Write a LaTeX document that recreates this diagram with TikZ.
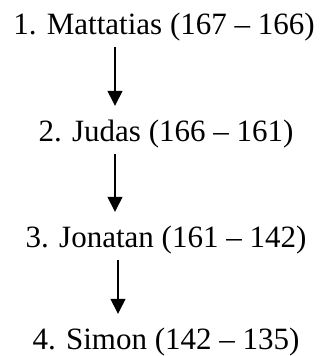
\documentclass[tikz,border=0pt]{standalone}
\usepackage{fontspec}
\setmainfont{Liberation Serif}
\usepackage{tikz}
\usetikzlibrary{positioning}
\usetikzlibrary{arrows.meta}

\tikzset{
  ruler/.style={font=\fontsize{31pt}{36pt}\selectfont, inner sep=0pt, text height=22pt, text depth=7pt, anchor=base},
  succ/.style={-{Triangle[width=15pt,length=15pt]}, line width=1.4pt, shorten <=6pt, shorten >=13pt}
}

\begin{document}
\begin{tikzpicture}[x=1pt,y=1pt]
\useasboundingbox (0,0) rectangle (323,-356);

\node [ruler] (mattatias) at (164,-34) {1. Mattatias (167 -- 166)};
\node [ruler] (judas) at (166,-141) {2. Judas (166 -- 161)};
\node [ruler] (jonatan) at (166,-247) {3. Jonatan (161 -- 142)};
\node [ruler] (simon) at (166,-349) {4. Simon (142 -- 135)};

\draw [succ] ([xshift=-49pt]mattatias.south) -- ([xshift=-51pt]judas.north);
\draw [succ] ([xshift=-51pt]judas.south) -- ([xshift=-51pt]jonatan.north);
\draw [succ] ([xshift=-48pt]jonatan.south) -- ([xshift=-48pt]simon.north);

  %\draw [help lines] (0,0) grid[step=20] (323,-356);
\end{tikzpicture}
\end{document}
